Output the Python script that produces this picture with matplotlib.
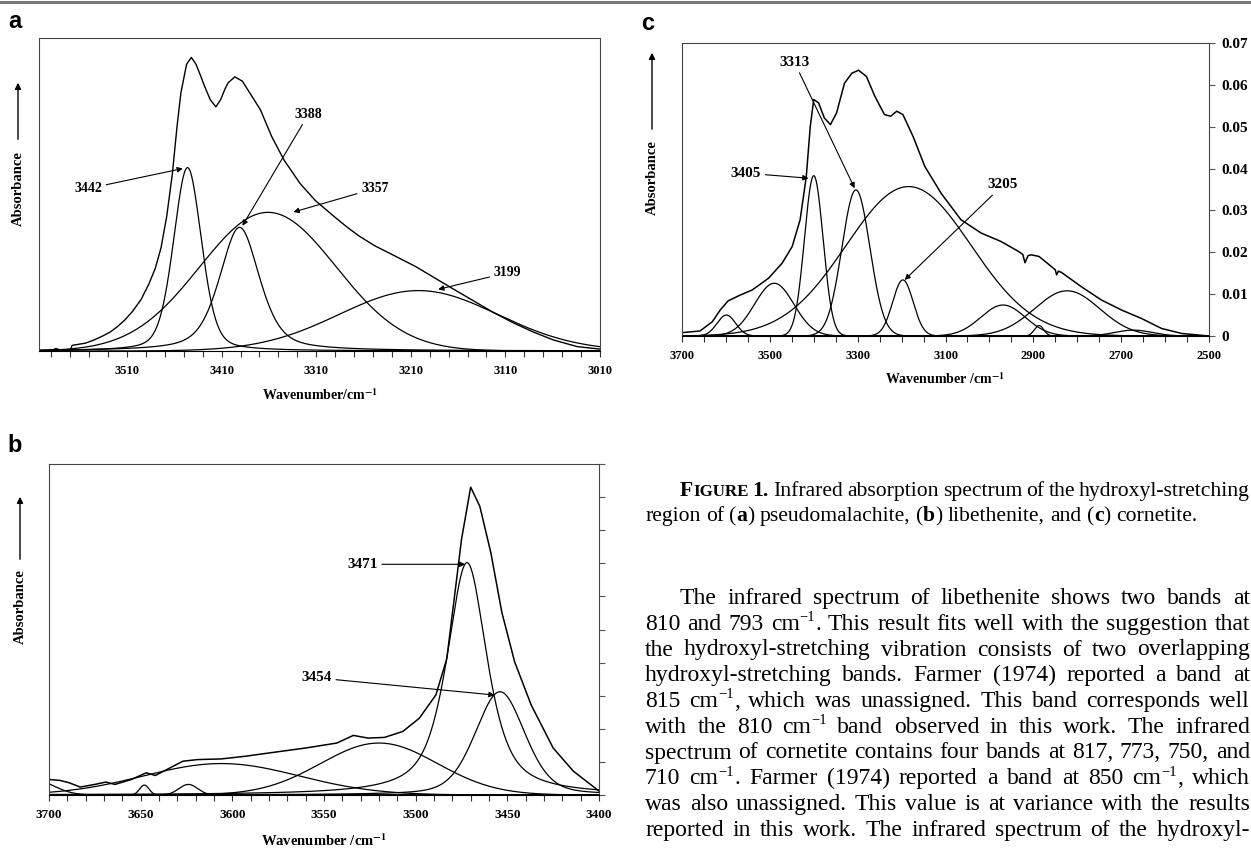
import numpy as np
import matplotlib
matplotlib.use('Agg')
import matplotlib.pyplot as plt
from matplotlib.lines import Line2D

plt.rcParams['font.family'] = ['Liberation Serif', 'DejaVu Serif']
plt.rcParams['mathtext.fontset'] = 'stix'

# ---------------- data: panel a (pseudomalachite) ----------------
a_env_wn = [3603, 3590, 3585, 3580, 3570, 3568, 3560, 3554, 3545, 3537, 3528, 3520, 3512, 3504,
            3495, 3487, 3480, 3474, 3468, 3462, 3457, 3453, 3447, 3442, 3437, 3432, 3428, 3422,
            3416, 3411, 3406, 3403, 3396, 3388, 3378, 3369, 3357, 3344, 3327, 3311, 3290, 3277,
            3265, 3248, 3227, 3205, 3185, 3165, 3143, 3122, 3101, 3080, 3059, 3034, 3010]
a_env_abs = [0.0, 0.002, 0.008, 0.002, 0.003, 0.018, 0.022, 0.025, 0.035, 0.046, 0.060, 0.078, 0.100, 0.127,
             0.165, 0.213, 0.265, 0.330, 0.430, 0.567, 0.720, 0.825, 0.916, 0.938, 0.916, 0.878, 0.846, 0.803,
             0.780, 0.803, 0.840, 0.857, 0.876, 0.862, 0.814, 0.771, 0.685, 0.610, 0.535, 0.481, 0.427, 0.395,
             0.368, 0.336, 0.304, 0.270, 0.234, 0.198, 0.159, 0.122, 0.089, 0.060, 0.035, 0.014, 0.006]
a_band_center = [3446, 3391, 3361, 3202]
a_band_height = [0.586, 0.395, 0.443, 0.193]
a_band_fwhm = [35, 50, 170, 197]
a_band_eta = [0.3, 0.5, 0.0, 0.0]
a_labels = ['3442', '3388', '3357', '3199']
a_xticks = [3510, 3410, 3310, 3210, 3110, 3010]

# ---------------- data: panel b (libethenite) ----------------
b_env_wn = [3700, 3694, 3689, 3683, 3675, 3669, 3664, 3655, 3647, 3642, 3634, 3627, 3619, 3606,
            3593, 3576, 3560, 3543, 3534, 3526, 3517, 3507, 3498, 3489, 3483, 3479, 3475, 3470,
            3465, 3459, 3453, 3446, 3437, 3425, 3414, 3400]
b_env_abs = [0.047, 0.044, 0.037, 0.024, 0.032, 0.039, 0.032, 0.047, 0.067, 0.059, 0.082, 0.102, 0.107, 0.109,
             0.117, 0.130, 0.142, 0.157, 0.180, 0.172, 0.174, 0.192, 0.232, 0.302, 0.412, 0.592, 0.772, 0.930,
             0.872, 0.732, 0.552, 0.402, 0.272, 0.142, 0.072, 0.012]
b_band_center = [3472, 3454, 3520, 3606, 3648, 3624, 3708]
b_band_height = [0.702, 0.312, 0.157, 0.095, 0.030, 0.032, 0.045]
b_band_fwhm = [26, 32, 75, 100, 6, 12, 25]
b_band_eta = [0.7, 0.3, 0.0, 0.0, 0.0, 0.0, 0.0]
b_labels = ['3471', '3454']
b_xticks = [3700, 3650, 3600, 3550, 3500, 3450, 3400]

# ---------------- data: panel c (cornetite) ----------------
c_env_wn = [3700, 3659, 3631, 3613, 3595, 3567, 3540, 3503, 3472, 3449, 3431, 3417, 3408, 3400,
            3389, 3376, 3362, 3348, 3330, 3313, 3298, 3280, 3261, 3239, 3225, 3211, 3197, 3174,
            3147, 3110, 3065, 3019, 2974, 2937, 2924, 2919, 2912, 2905, 2887, 2859, 2850, 2847,
            2843, 2836, 2791, 2745, 2699, 2654, 2608, 2562, 2500]
c_env_abs = [0.0008, 0.0012, 0.0034, 0.0062, 0.0084, 0.0098, 0.0110, 0.0138, 0.0174, 0.0214, 0.0278, 0.0381, 0.0500, 0.0565,
             0.0557, 0.0521, 0.0505, 0.0533, 0.0604, 0.0628, 0.0635, 0.0620, 0.0573, 0.0529, 0.0525, 0.0537, 0.0529, 0.0477,
             0.0405, 0.0341, 0.0278, 0.0246, 0.0226, 0.0204, 0.0195, 0.0175, 0.0192, 0.0194, 0.0190, 0.0166, 0.0158, 0.0146,
             0.0155, 0.0152, 0.0118, 0.0086, 0.0062, 0.0042, 0.0018, 0.0006, 0.0]
c_band_center = [3400, 3304, 3184, 3197, 3490, 3599, 2969, 2823, 2887, 2672]
c_band_height = [0.0383, 0.0349, 0.0357, 0.0134, 0.0126, 0.0050, 0.0074, 0.0108, 0.0025, 0.0014]
c_band_fwhm = [50, 75, 335, 55, 105, 50, 119, 174, 25, 100]
c_labels = ['3405', '3313', '3205']
c_xticks = [3700, 3500, 3300, 3100, 2900, 2700, 2500]
c_yticks = [0, 0.01, 0.02, 0.03, 0.04, 0.05, 0.06, 0.07]

# markup: *bold*, ~small caps~, ^superscript^
caption_lines = [
    "*F~IGURE~* *1.* Infrared absorption spectrum of the hydroxyl-stretching",
    "region of (*a*) pseudomalachite, (*b*) libethenite, and (*c*) cornetite.",
]
body_lines = [
    "The infrared spectrum of libethenite shows two bands at",
    "810 and 793 cm^\u22121^. This result fits well with the suggestion that",
    "the hydroxyl-stretching vibration consists of two overlapping",
    "hydroxyl-stretching bands. Farmer (1974) reported a band at",
    "815 cm^\u22121^, which was unassigned. This band corresponds well",
    "with the 810 cm^\u22121^ band observed in this work. The infrared",
    "spectrum of cornetite contains four bands at 817, 773, 750, and",
    "710 cm^\u22121^. Farmer (1974) reported a band at 850 cm^\u22121^, which",
    "was also unassigned. This value is at variance with the results",
    "reported in this work. The infrared spectrum of the hydroxyl-",
]

# ---------------- helpers ----------------
W, H = 1251, 850
fig = plt.figure(figsize=(W / 100, H / 100), dpi=100)


def fx(x):
    return x / W


def fy(y):
    return 1 - y / H


def add_axes(l, t, r, b):
    return fig.add_axes([fx(l), fy(b), (r - l) / W, (b - t) / H])


def band(x, c, h, w, eta):
    d = (x - c) / w
    g = np.exp(-4 * np.log(2) * d ** 2)
    lz = 1 / (1 + 4 * d ** 2)
    return h * (eta * lz + (1 - eta) * g)


BOLD = dict(fontweight='bold')


def style_axes(ax, xlim, ylim, major, minor, ticksize):
    ax.set_xlim(*xlim)
    ax.set_ylim(*ylim)
    ax.set_xticks(major)
    ax.set_xticks(minor, minor=True)
    ax.tick_params(axis='x', which='both', direction='out', length=4, width=0.8,
                   pad=6, labelsize=ticksize, color='#333')
    for lbl in ax.get_xticklabels():
        lbl.set_fontweight('bold')
    for s in ax.spines.values():
        s.set_linewidth(0.8)
        s.set_color('#444')
    ax.spines['bottom'].set_color('k')
    ax.set_facecolor('white')


def annot(ax, text, xy, xytext, size=11):
    ax.annotate(text, xy=xy, xytext=xytext, textcoords='data', ha='center', va='center',
                fontsize=size, fontweight='bold',
                arrowprops=dict(arrowstyle='-|>', color='k', lw=0.8, mutation_scale=8,
                                shrinkA=1, shrinkB=0))


def ylabel_arrow(x, text_c, arr_bot, arr_top, size=10.5):
    fig.text(fx(x), fy(text_c), 'Absorbance', rotation=90, ha='center', va='center',
             fontsize=size, fontweight='bold')
    fig.add_artist(matplotlib.patches.FancyArrowPatch(
        (fx(x), fy(arr_bot)), (fx(x), fy(arr_top)), transform=fig.transFigure,
        arrowstyle='-|>', mutation_scale=9, lw=1.0, color='k'))


XL = 'Wavenumber{}/cm$^{{\\mathbf{{-1}}}}$'

# ---------------- panel a ----------------
axa = add_axes(39, 38, 600, 351)
xa = np.linspace(3603, 3010, 1500)
for c, h, w, e in zip(a_band_center, a_band_height, a_band_fwhm, a_band_eta):
    axa.plot(xa, band(xa, c, h, w, e), color='k', lw=0.9)
axa.plot(a_env_wn, a_env_abs, color='k', lw=1.0)
style_axes(axa, (3603, 3010), (0, 1.0), a_xticks, np.arange(3590, 3009, -20), 9)
axa.set_yticks([])
annot(axa, a_labels[0], (3451, 0.583), (3551, 0.519), 10)
annot(axa, a_labels[1], (3388, 0.400), (3318, 0.757), 10)
annot(axa, a_labels[2], (3334, 0.444), (3248, 0.519), 10)
annot(axa, a_labels[3], (3181, 0.197), (3108, 0.250), 10)
fig.text(fx(320), fy(395), XL.format(''), ha='center', va='center', fontsize=10, **BOLD)
ylabel_arrow(18, 189, 142, 80)
fig.text(fx(15), fy(22), 'a', ha='center', va='center', fontsize=17, fontweight='bold',
         family='Liberation Sans')

# ---------------- panel b ----------------
axb = add_axes(49, 464, 599, 795)
xb = np.linspace(3700, 3400, 1500)
for c, h, w, e in zip(b_band_center, b_band_height, b_band_fwhm, b_band_eta):
    axb.plot(xb, band(xb, c, h, w, e), color='k', lw=0.9)
axb.plot(b_env_wn, b_env_abs, color='k', lw=1.1)
style_axes(axb, (3700, 3400), (0, 1.0), b_xticks, np.arange(3700, 3399, -10), 9.5)
axb.yaxis.tick_right()
axb.set_yticks(np.arange(0, 1.001, 0.1))
axb.tick_params(axis='y', direction='out', length=4, width=0.8, labelright=False, color='#555')
annot(axb, b_labels[0], (3473, 0.697), (3529, 0.697), 11)
annot(axb, b_labels[1], (3457, 0.302), (3554, 0.354), 11)
fig.text(fx(324), fy(841), XL.format(' '), ha='center', va='center', fontsize=10.5, **BOLD)
ylabel_arrow(20, 607, 562, 494)
fig.text(fx(15), fy(446), 'b', ha='center', va='center', fontsize=17, fontweight='bold',
         family='Liberation Sans')

# ---------------- panel c ----------------
axc = add_axes(682, 43, 1209, 336)
xc = np.linspace(3700, 2500, 2000)
for c, h, w in zip(c_band_center, c_band_height, c_band_fwhm):
    axc.plot(xc, band(xc, c, h, w, 0.0), color='k', lw=0.9)
axc.plot(c_env_wn, c_env_abs, color='k', lw=1.1)
style_axes(axc, (3700, 2500), (0, 0.07), c_xticks, np.arange(3700, 2499, -50), 9)
axc.yaxis.tick_right()
axc.set_yticks(c_yticks)
axc.set_yticklabels(['0' if v == 0 else f'{v:.2f}' for v in c_yticks])
axc.tick_params(axis='y', direction='out', length=4, width=0.8, pad=5, labelsize=11, color='#555')
for lbl in axc.get_yticklabels():
    lbl.set_fontweight('bold')
annot(axc, c_labels[0], (3412, 0.0377), (3554, 0.0389))
annot(axc, c_labels[1], (3307, 0.0353), (3444, 0.0654))
annot(axc, c_labels[2], (3193, 0.0134), (2969, 0.0361))
fig.text(fx(945), fy(379), XL.format(' '), ha='center', va='center', fontsize=10, **BOLD)
ylabel_arrow(652, 178, 132, 50)
fig.text(fx(648), fy(24), 'c', ha='center', va='center', fontsize=17, fontweight='bold',
         family='Liberation Sans')

# ---------------- page rule ----------------
fig.add_artist(Line2D([0, 1], [fy(2), fy(2)], color='#777', lw=2.2, transform=fig.transFigure))

# ---------------- text blocks ----------------
R = fig.canvas.get_renderer()


def parse(word, size):
    runs, cur, bold, small, sup = [], '', False, False, False
    for ch in word:
        if ch in '*~^':
            if cur:
                runs.append((cur, bold, small, sup))
            cur = ''
            if ch == '*':
                bold = not bold
            elif ch == '~':
                small = not small
            else:
                sup = not sup
        else:
            cur += ch
    if cur:
        runs.append((cur, bold, small, sup))
    out = []
    for t, b, s, u in runs:
        fs = size * (0.78 if s else 1.0) * (0.62 if u else 1.0)
        dy = size * 100 / 72 * 0.36 if u else 0.0
        out.append((t, dict(fontsize=fs, fontweight='bold' if b else 'normal'), dy))
    return out


def width(s, props):
    t = fig.text(0, 0, s, **props)
    wd = t.get_window_extent(renderer=R).width
    t.remove()
    return wd


def space_w(size):
    return width('x x', dict(fontsize=size)) - width('xx', dict(fontsize=size))


def draw_line(line, x0, x1, ybase, size, justify):
    words = [parse(w, size) for w in line.split()]
    wwidths = [sum(width(t, p) for t, p, _ in wr) for wr in words]
    if justify and len(words) > 1:
        gap = (x1 - x0 - sum(wwidths)) / (len(words) - 1)
    else:
        gap = space_w(size)
    x = x0
    for wr, ww in zip(words, wwidths):
        xx = x
        for t, p, dy in wr:
            fig.text(fx(xx), fy(ybase - dy), t, ha='left', va='baseline', **p)
            xx += width(t, p)
        x += ww + gap


def natural(line, size, spf):
    ws = [sum(width(t, p) for t, p, _ in parse(w, size)) for w in line.split()]
    return sum(ws) + space_w(size) * spf * (len(ws) - 1)


BODY_L, BODY_R, INDENT = 645, 1250, 680
body_size = 17.0
for i, ln in enumerate(body_lines):
    x0 = INDENT if i == 0 else BODY_L
    nw = natural(ln, body_size, 0.6)
    if nw > BODY_R - x0:
        body_size = body_size * (BODY_R - x0) / nw
cap_size = 16.0
nw = natural(caption_lines[0], cap_size, 0.75)
if nw > BODY_R - INDENT:
    cap_size = cap_size * (BODY_R - INDENT) / nw

draw_line(caption_lines[0], INDENT, BODY_R, 496, cap_size, True)
draw_line(caption_lines[1], BODY_L, BODY_R, 521, cap_size, False)
for i, ln in enumerate(body_lines):
    x0 = INDENT if i == 0 else BODY_L
    draw_line(ln, x0, BODY_R, 604 + i * 25.75, body_size, True)

fig.savefig('out.png', dpi=100)
